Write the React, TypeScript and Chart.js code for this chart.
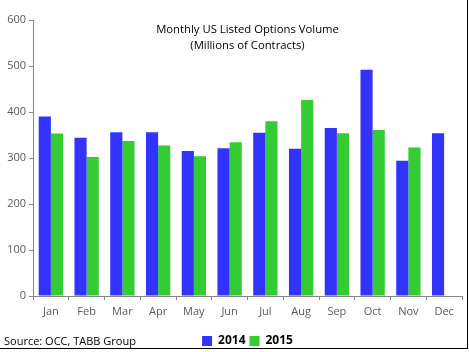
import React, { useEffect, useRef } from "react";
import { Chart, registerables } from "chart.js";

Chart.register(...registerables);

const months = ["Jan", "Feb", "Mar", "Apr", "May", "Jun", "Jul", "Aug", "Sep", "Oct", "Nov", "Dec"];
const vol2014 = [390, 344, 356, 356, 315, 321, 355, 320, 365, 492, 294, 354];
const vol2015 = [353, 302, 337, 327, 304, 334, 380, 426, 354, 361, 323, null];
const titleLines = ["Monthly US Listed Options Volume", "(Millions of Contracts)"];
const sourceText = "Source: OCC, TABB Group";

const FONT = "'Open Sans', 'Noto Sans', sans-serif";

const titlePlugin = {
  id: "innerTitle",
  afterLayout(chart: any) {
    const lg = chart.legend;
    if (lg) {
      lg.left = chart.chartArea.left;
      lg.right = chart.chartArea.right;
    }
  },
  afterDraw(chart: any) {
    const { ctx, chartArea } = chart;
    const cx = (chartArea.left + chartArea.right) / 2;
    ctx.save();
    ctx.font = `11.3px ${FONT}`;
    ctx.fillStyle = "#000000";
    ctx.textAlign = "center";
    ctx.textBaseline = "middle";
    titleLines.forEach((t, i) => ctx.fillText(t, cx, chartArea.top + 10 + i * 16));
    ctx.restore();
  },
};

export default function App() {
  const ref = useRef<HTMLCanvasElement>(null);
  useEffect(() => {
    document.body.style.margin = "0";
    const chart = new Chart(ref.current!, {
      type: "bar",
      data: {
        labels: months,
        datasets: [
          { label: "2014", data: vol2014, backgroundColor: "#3333FF", borderWidth: 0 },
          { label: "2015", data: vol2015 as any, backgroundColor: "#33CC33", borderWidth: 0 },
        ],
      },
      options: {
        responsive: false,
        animation: false,
        datasets: { bar: { categoryPercentage: 0.68, barPercentage: 1 } },
        layout: { padding: { left: 6, right: 7, top: 20, bottom: -5 } },
        plugins: {
          title: { display: false },
          tooltip: { enabled: false },
          legend: {
            position: "bottom",
            labels: {
              boxWidth: 10,
              boxHeight: 10,
              padding: 4,
              color: "#000000",
              font: { family: FONT, size: 12, weight: "bold" },
            },
          },
        },
        scales: {
          x: {
            grid: {
              display: true,
              drawOnChartArea: false,
              drawTicks: true,
              tickLength: 4,
              offset: true,
              color: "#868686",
            },
            border: { display: true, color: "#868686" },
            ticks: { color: "#595959", font: { family: FONT, size: 11 }, padding: 5 },
            afterFit(scale: any) {
              scale.height = 35;
            },
          },
          y: {
            min: 0,
            max: 600,
            grid: { display: true, drawOnChartArea: false, drawTicks: true, tickLength: 4, color: "#868686" },
            border: { display: true, color: "#868686" },
            ticks: { stepSize: 100, color: "#595959", font: { family: FONT, size: 11 }, padding: 3 },
            afterFit(scale: any) {
              scale.width = 27;
            },
          },
        },
      },
      plugins: [titlePlugin],
    });
    return () => chart.destroy();
  }, []);

  return (
    <div style={{ position: "relative", width: 469, height: 352, background: "#fff" }}>
      <canvas ref={ref} width={469} height={352} style={{ position: "absolute", left: 0, top: 0 }} />
      <div
        style={{
          position: "absolute",
          left: 0,
          top: 0,
          width: 467,
          height: 348,
          borderRight: "1px solid #000",
          borderBottom: "1px solid #000",
          pointerEvents: "none",
        }}
      />
      <div
        style={{
          position: "absolute",
          left: 4,
          top: 334,
          fontFamily: FONT,
          fontSize: 11,
          color: "#000",
          whiteSpace: "nowrap",
          lineHeight: "14px",
        }}
      >
        {sourceText}
      </div>
    </div>
  );
}
